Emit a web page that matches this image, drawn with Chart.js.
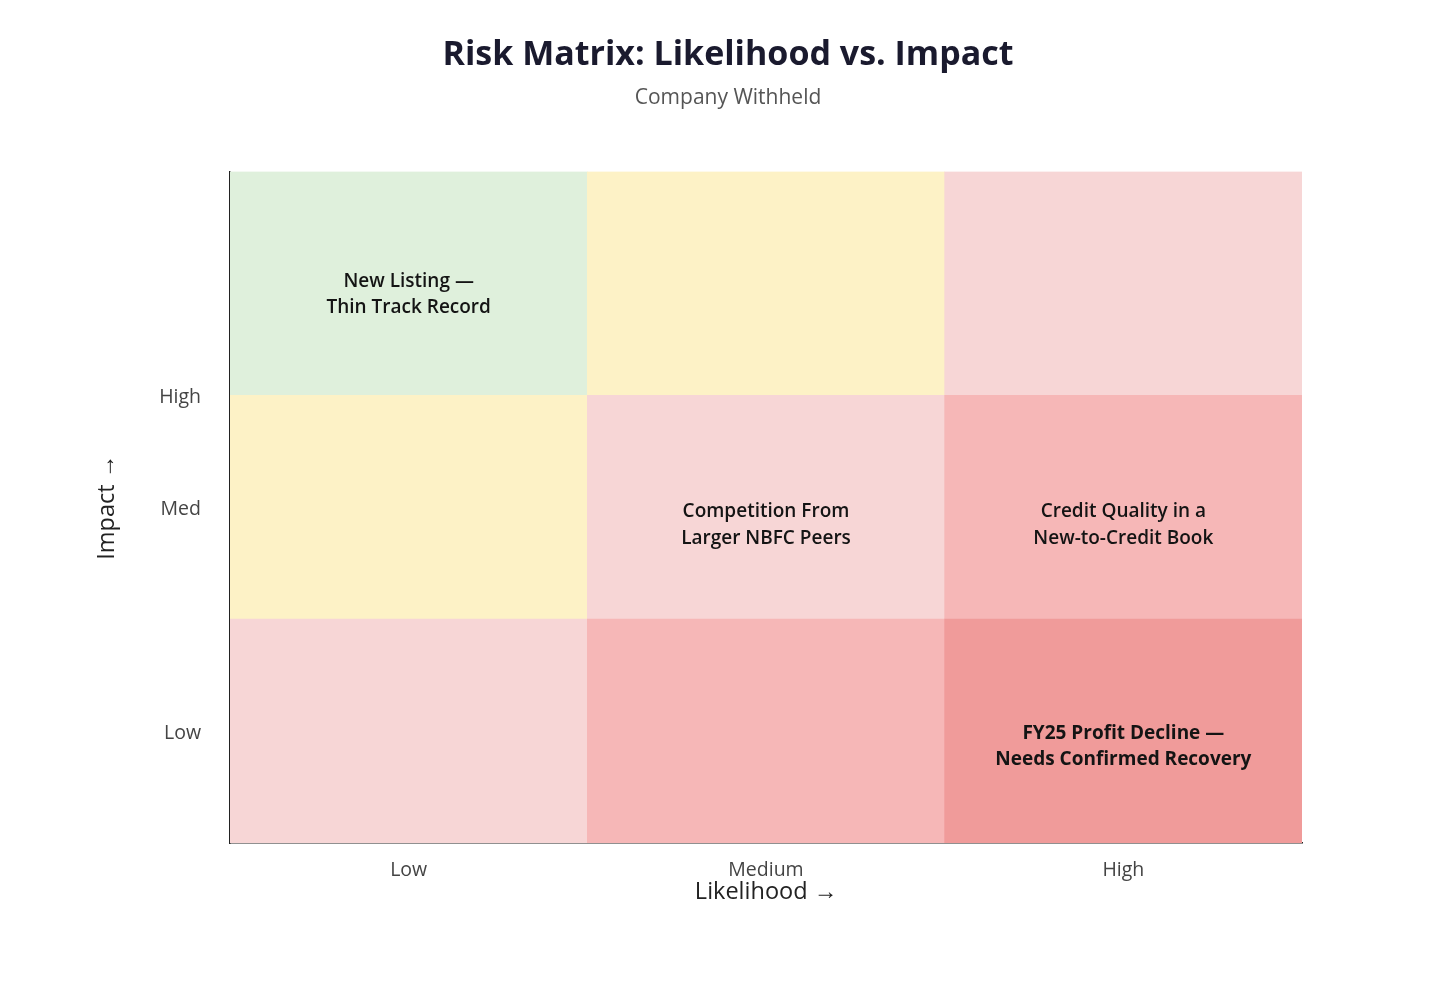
<!DOCTYPE html>
<html>
<head>
<meta charset="utf-8">
<title>Risk Matrix</title>
<script src="https://cdn.jsdelivr.net/npm/chart.js@4.4.1/dist/chart.umd.min.js"></script>
<style>
  html, body { margin: 0; padding: 0; background: #ffffff; }
  #wrap { width: 1456px; height: 996px; }
</style>
</head>
<body>
<div id="wrap"><canvas id="riskMatrix"></canvas></div>
<script>
// categories
const likelihoodLabels = ['Low', 'Medium', 'High'];
const impactRows = ['Low', 'Med', 'High'];
// y tick labels as they appear on the source chart
const impactTickValues = [0.5, 1.5, 2];
const impactTickLabels = ['Low', 'Med', 'High'];

// cell colours per impact row, by likelihood column
const rowLowColors = ['#f7d6d6', '#f6b7b7', '#f09b9a'];
const rowMedColors = ['#fdf2c6', '#f7d6d6', '#f6b7b7'];
const rowHighColors = ['#dff0dc', '#fdf2c6', '#f7d6d6'];

// risks placed in the matrix
const riskNames = [
  ['New Listing \u2014', 'Thin Track Record'],
  ['Competition From', 'Larger NBFC Peers'],
  ['Credit Quality in a', 'New-to-Credit Book'],
  ['FY25 Profit Decline \u2014', 'Needs Confirmed Recovery']
];
const riskLikelihood = [0, 1, 2, 2];
const riskImpact = [2.46, 1.43, 1.43, 0.44];
const riskBold = [false, false, false, true];

const FONT = "'Open Sans', 'Noto Sans', sans-serif";

const riskLabelPlugin = {
  id: 'riskLabels',
  afterDatasetsDraw(chart) {
    const ctx = chart.ctx;
    const x = chart.scales.x;
    const y = chart.scales.y;
    ctx.save();
    ctx.fillStyle = '#141414';
    ctx.textAlign = 'center';
    ctx.textBaseline = 'middle';
    riskNames.forEach(function (lines, i) {
      const px = x.getPixelForValue(riskLikelihood[i]);
      const py = y.getPixelForValue(riskImpact[i]) + 2;
      ctx.font = (riskBold[i] ? '700' : '600') + ' 19px ' + FONT;
      const lh = 26.5;
      const start = py - (lines.length - 1) * lh / 2;
      lines.forEach(function (t, j) {
        ctx.fillText(t, px, start + j * lh);
      });
    });
    ctx.restore();
  }
};

function rowDataset(name, colors) {
  return {
    label: name,
    data: likelihoodLabels.map(function () { return 1; }),
    backgroundColor: colors,
    borderWidth: 0,
    categoryPercentage: 1,
    barPercentage: 1
  };
}

const ctx = document.getElementById('riskMatrix').getContext('2d');
new Chart(ctx, {
  type: 'bar',
  data: {
    labels: likelihoodLabels,
    datasets: [
      rowDataset(impactRows[0], rowLowColors),
      rowDataset(impactRows[1], rowMedColors),
      rowDataset(impactRows[2], rowHighColors)
    ]
  },
  plugins: [riskLabelPlugin],
  options: {
    responsive: true,
    maintainAspectRatio: false,
    animation: false,
    layout: { padding: { left: 0, right: 0, top: 0, bottom: 53 } },
    plugins: {
      legend: { display: false },
      tooltip: { enabled: false },
      title: {
        display: true,
        text: 'Risk Matrix: Likelihood vs. Impact',
        color: '#1a1a2e',
        font: { family: FONT, size: 34, weight: '700' },
        padding: { top: 35, bottom: 10 }
      },
      subtitle: {
        display: true,
        text: 'Company Withheld',
        color: '#555555',
        font: { family: FONT, size: 21, weight: '400' },
        padding: { top: 0, bottom: 60.5 }
      }
    },
    scales: {
      x: {
        stacked: true,
        z: 1,
        grid: { display: false, drawTicks: false },
        border: { display: true, color: '#222222', width: 1.5 },
        ticks: { color: '#444444', font: { family: FONT, size: 19.5 }, padding: 16 },
        title: {
          display: true,
          text: 'Likelihood \u2192',
          color: '#222222',
          font: { family: FONT, size: 23.5 },
          padding: { top: 0, bottom: 37 }
        },
        afterFit(scale) { scale.height = 100; }
      },
      y: {
        stacked: true,
        min: 0,
        max: 3,
        z: 1,
        grid: { display: false, drawTicks: false },
        border: { display: true, color: '#222222', width: 1.5 },
        afterBuildTicks(scale) {
          scale.ticks = impactTickValues.map(function (v) { return { value: v }; });
        },
        ticks: {
          color: '#444444',
          font: { family: FONT, size: 19.5 },
          padding: 29,
          labelOffset: 2,
          callback: function (value) {
            const i = impactTickValues.indexOf(value);
            return i >= 0 ? impactTickLabels[i] : '';
          }
        },
        title: {
          display: true,
          text: 'Impact \u2192',
          color: '#222222',
          font: { family: FONT, size: 23.5 },
          padding: { top: 93, bottom: 0 }
        },
        afterFit(scale) { scale.width = 230; }
      },
      // empty right-hand strip so the titles centre on the whole canvas
      yRight: {
        position: 'right',
        display: true,
        grid: { display: false, drawTicks: false },
        border: { display: false },
        ticks: { display: false },
        afterFit(scale) { scale.width = 154; }
      }
    }
  }
});
</script>
</body>
</html>
